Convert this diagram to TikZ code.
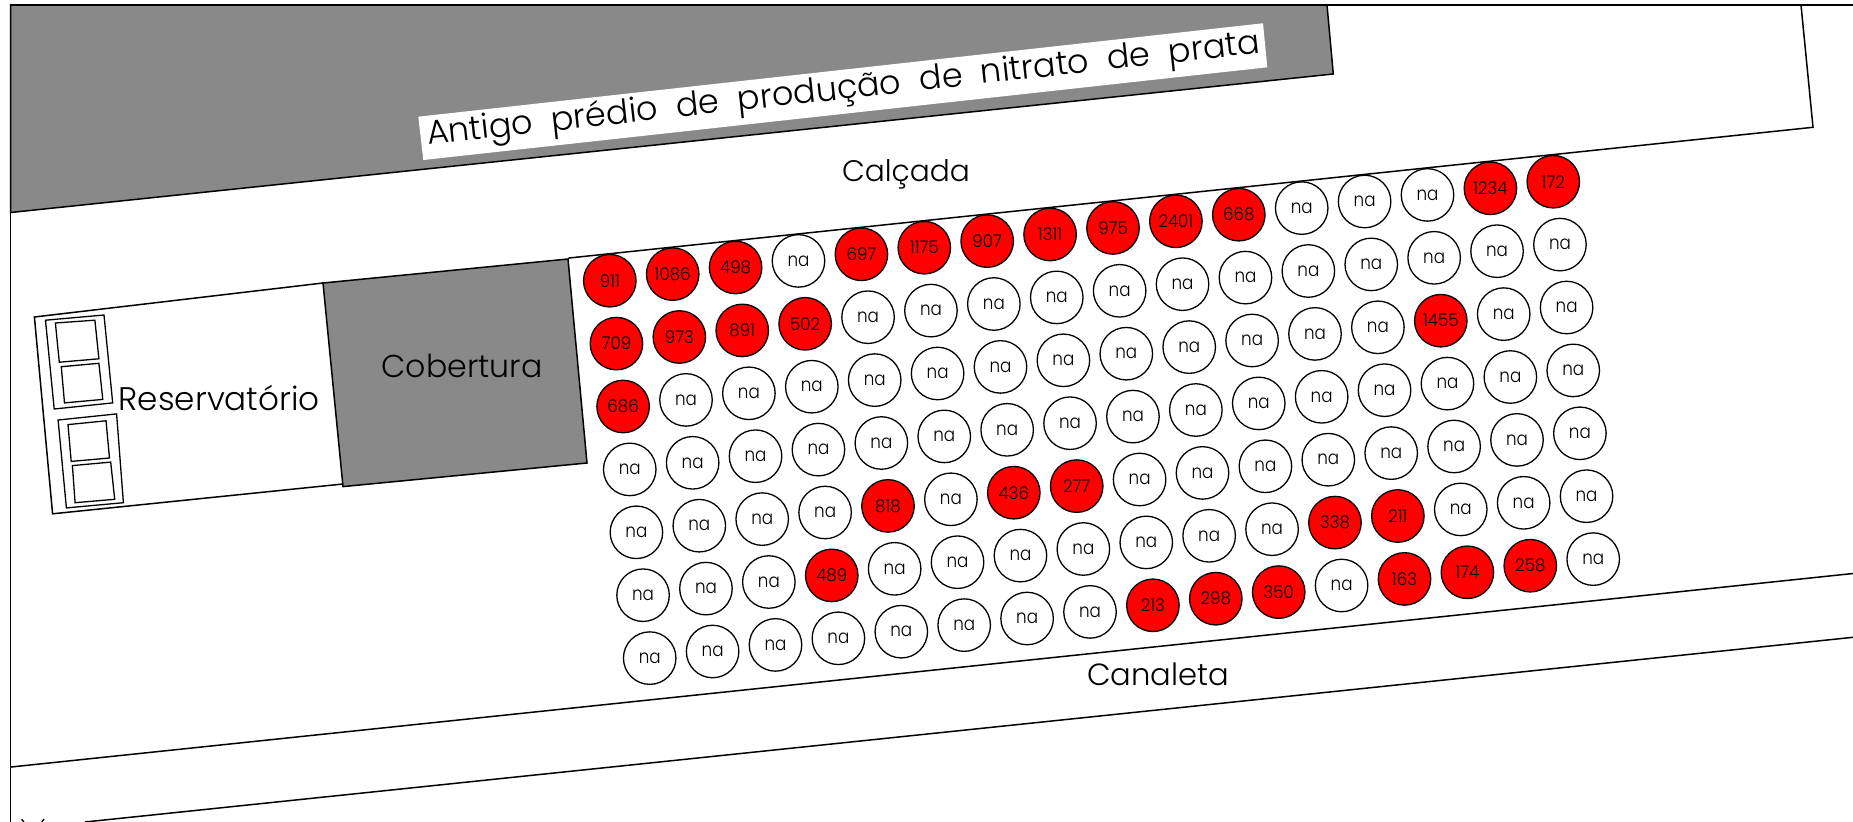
\documentclass[tikz,border=0pt]{standalone}
\usepackage{fontspec}
\usepackage{graphicx}
\newfontfamily\cad[UprightFont={* Light}]{Poppins}
\newfontfamily\cadnum[UprightFont={* Light},Numbers=Monospaced,FakeStretch=0.95]{Poppins}
\newfontfamily\cadna[UprightFont={* Light},FakeStretch=0.88]{Poppins}
\definecolor{roofgray}{HTML}{898989}
\tikzset{
  x=1pt,y=-1pt,
  planline/.style={draw=black,line width=1.5pt,line join=miter},
  thinline/.style={draw=black,line width=1.3pt},
  roof/.style={planline,fill=roofgray},
  wellbase/.style={circle,draw=black,line width=1.3pt,minimum size=52.5pt,inner sep=0pt,text=black},
  emptywell/.style={wellbase,fill=white,font=\cadna\fontsize{19}{19}\selectfont},
  hitwell/.style={wellbase,fill=red,font=\cadnum\fontsize{17.5}{17.5}\selectfont},
  planlabel/.style={inner sep=0pt,text=black,font=\cad\fontsize{30}{30}\selectfont},
}
\def\naword{na}
\begin{document}
\begin{tikzpicture}
\useasboundingbox (0,0) rectangle (1853,822);
\fill[white] (0,0) rectangle (1853,822);
% frame
\draw[planline] (10.7,822) -- (10.7,5) -- (1853,5);
% old building
\path[roof] (10.7,5) -- (1327,5) -- (1333.3,74) -- (10.7,212.5) -- cycle;
\fill[white] (418.3,116.7) -- (1263,23.3) -- (1267.3,67.3) -- (423.3,160) -- cycle;
\node[planlabel,anchor=base west,rotate=6.3] (building) at (428,145)
  {\resizebox{838pt}{!}{Antigo\ \ prédio\ \ de\ \ produção\ \ de\ \ nitrato\ \ de\ \ prata}};
% sidewalk block
\draw[planline] (1801,5) -- (1813,127.3) -- (569,258);
% reservoir and cover
\draw[planline] (323,283) -- (34.4,317) -- (52.6,513.8) -- (343,484);
\path[roof] (323,283) -- (568,259) -- (587,463) -- (343,486.6) -- cycle;
\draw[thinline] (568,259) -- (569,258);
\draw[thinline] (45.5,320.2) -- (104,315) -- (112.7,402.9) -- (54.2,409) -- cycle;
\draw[thinline] (55.4,323) -- (94.9,320.2) -- (98.9,358.8) -- (59.3,362.2) -- cycle;
\draw[thinline] (61.3,366.7) -- (98.9,363.3) -- (102.8,399.4) -- (64.5,402.9) -- cycle;
\draw[thinline] (58.1,420) -- (116.6,413.9) -- (123.4,502.7) -- (66.4,507.9) -- cycle;
\draw[thinline] (68,424.6) -- (106,420.8) -- (109.5,458) -- (71.2,461.4) -- cycle;
\draw[thinline] (72.4,465.6) -- (110.7,462.1) -- (114.7,499.3) -- (75.1,502.7) -- cycle;
% gutter
\draw[planline] (11,767) -- (1853,573.5);
\draw[planline] (85,822) -- (1853,637.3);
\draw[thinline] (21.7,819.3) -- (24,822);
\draw[thinline] (44,819) -- (41.8,822);
% labels
\node[planlabel,anchor=base west] (reservoir) at (118.6,410.8) {\resizebox{201pt}{!}{Reservatório}};
\node[planlabel,anchor=base] (cover) at (462,377.8) {\resizebox{161pt}{!}{Cobertura}};
\node[planlabel,anchor=base] (sidewalk) at (906,181.7) {\resizebox{128pt}{!}{Calçada}};
\node[planlabel,anchor=base] (gutter) at (1158,685.5) {\resizebox{142pt}{!}{Canaleta}};
% wells
\foreach \rowvals [count=\ri from 0] in {
 {911,1086,498,na,697,1175,907,1311,975,2401,668,na,na,na,1234,172},
 {709,973,891,502,na,na,na,na,na,na,na,na,na,na,na,na},
 {686,na,na,na,na,na,na,na,na,na,na,na,na,1455,na,na},
 {na,na,na,na,na,na,na,na,na,na,na,na,na,na,na,na},
 {na,na,na,na,818,na,436,277,na,na,na,na,na,na,na,na},
 {na,na,na,489,na,na,na,na,na,na,na,338,211,na,na,na},
 {na,na,na,na,na,na,na,na,213,298,350,na,163,174,258,na}}
{
  \foreach \val [count=\ci from 0] in \rowvals {
    \edef\tmpval{\val}
    \ifx\tmpval\naword\def\wellstyle{emptywell}\else\def\wellstyle{hitwell}\fi
    \node[\wellstyle] (w\ri-\ci) at ({609.8+62.9*\ci+6.65*\ri},{280.7-6.6*\ci+62.9*\ri}) {\val};
  }
}
\end{tikzpicture}
\end{document}
